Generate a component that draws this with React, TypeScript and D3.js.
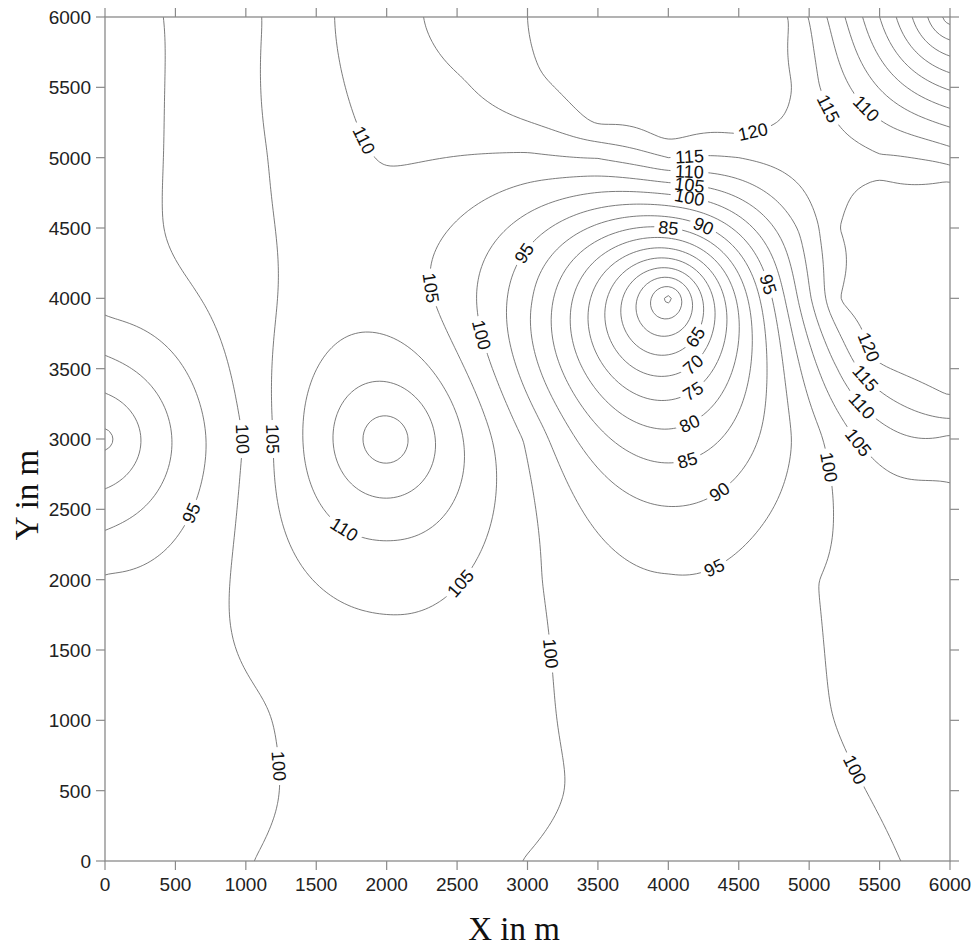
import React, { useEffect, useRef } from 'react';
import * as d3 from 'd3';

// survey grid nodes (m)
const xNodes = [0, 1000, 2000, 3000, 4000, 5000, 6000];
const yNodes = [0, 1000, 2000, 3000, 4000, 5000, 6000];

// values at the grid nodes, one row per northing (south to north)
const valuesY0 = [98.0, 99.9, 102.0, 99.9, 97.5, 98.2, 100.8];
const valuesY1000 = [97.5, 99.0, 103.5, 100.8, 97.0, 99.5, 102.5];
const valuesY2000 = [95.5, 101.0, 106.3, 100.9, 95.3, 99.7, 102.8];
const valuesY3000 = [78.5, 100.4, 124.0, 99.2, 81.5, 97.6, 109.0];
const valuesY4000 = [97.0, 102.8, 107.5, 91.1, 48.5, 109.3, 122.3];
const valuesY5000 = [97.3, 103.8, 110.4, 109.1, 115.0, 117.5, 112.8];
const valuesY6000 = [97.3, 103.9, 113.5, 120.0, 123.0, 114.7, 72.5];

// extra readings between the nodes
const extraX = [3500, 4500, 4800, 3500, 4000, 4500, 4800, 2500, 3500, 4000, 4500, 3500, 4500, 5000,
    5000, 5250, 5250, 5200, 5500, 5500, 5500, 5500, 6000, 6000, 5500, 6000, 6000, 5500, 5500, 6000, 5500,
    1000, 3000, 3500, 3000, 3250, 500];
const extraY = [6000, 6000, 6000, 5700, 5500, 5600, 5500, 5500, 5300, 5200, 5250, 5000, 5000, 5500,
    4500, 4000, 4500, 3500, 4000, 4500, 4800, 5000, 4500, 4800, 3600, 3500, 3250, 3250, 3000, 2500, 2500,
    500, 500, 500, 5500, 5750, 4500];
const extraV = [121.5, 122.5, 121.5, 121.8, 122.8, 122.5, 121.8, 114.2, 122.0, 122.3, 121.8, 110.2, 115.0, 116.6,
    112.5, 121.0, 120.8, 110.0, 122.3, 122.0, 121.0, 115.5, 121.8, 121.0, 121.5, 121.8, 119.3, 112.8, 107.5, 102.8, 103.0,
    99.0, 100.8, 99.4, 118.8, 121.0, 100.5];

const contourLevels = d3.range(50, 121, 5);
const axisTicks = d3.range(0, 6001, 500);

// [level, approx. x, approx. y] where a contour carries its label
const labelSpots: [number, number, number][] = [
    [110, 1825, 5126], [120, 4594, 5197], [115, 5112, 5325], [110, 5396, 5325],
    [115, 4154, 5005], [110, 4140, 4919], [105, 4154, 4834], [100, 4154, 4749],
    [85, 3998, 4538], [90, 4260, 4538], [95, 2876, 4379], [95, 4693, 4095],
    [105, 2272, 4059], [100, 2613, 3725], [120, 5361, 3633], [115, 5375, 3405],
    [110, 5375, 3227], [105, 5375, 3007], [100, 5162, 2801], [65, 4249, 3668],
    [70, 4228, 3491], [75, 4207, 3299], [80, 4175, 3085], [85, 4140, 2837],
    [90, 4367, 2623], [95, 4317, 2118], [100, 944, 2993], [105, 1186, 2993],
    [95, 589, 2474], [110, 1690, 2339], [105, 2535, 1962], [100, 1264, 682],
    [100, 3195, 1479], [100, 5382, 668],
];

const sans = 'Arial, "Liberation Sans", sans-serif';
const serif = '"Times New Roman", "Liberation Serif", serif';

export default function App() {
    const svgRef = useRef<SVGSVGElement | null>(null);

    useEffect(() => {
        const width = 972;
        const height = 946;
        const plot = { left: 105, right: 950, top: 17, bottom: 861 };

        const x = d3.scaleLinear().domain([0, 6000]).range([plot.left, plot.right]);
        const y = d3.scaleLinear().domain([0, 6000]).range([plot.bottom, plot.top]);

        const svg = d3.select(svgRef.current).attr('width', width).attr('height', height);
        svg.selectAll('*').remove();

        // kriging with a linear variogram through all readings
        const rows = [valuesY0, valuesY1000, valuesY2000, valuesY3000, valuesY4000, valuesY5000, valuesY6000];
        const pts: [number, number, number][] = [];
        rows.forEach((row, j) => row.forEach((v, i) => pts.push([xNodes[i], yNodes[j], v])));
        extraV.forEach((v, i) => pts.push([extraX[i], extraY[i], v]));
        const n = pts.length;
        const size = n + 1;
        const mat: number[][] = [];
        for (let i = 0; i < size; i++) {
            const r = new Array(size + 1).fill(0);
            for (let k = 0; k < size; k++) {
                if (i < n && k < n) r[k] = Math.hypot(pts[i][0] - pts[k][0], pts[i][1] - pts[k][1]);
                else if (i === n && k === n) r[k] = 0;
                else r[k] = 1;
            }
            r[size] = i < n ? pts[i][2] : 0;
            mat.push(r);
        }
        for (let c = 0; c < size; c++) {
            let p = c;
            for (let r = c + 1; r < size; r++) if (Math.abs(mat[r][c]) > Math.abs(mat[p][c])) p = r;
            [mat[c], mat[p]] = [mat[p], mat[c]];
            for (let r = 0; r < size; r++) {
                if (r === c) continue;
                const f = mat[r][c] / mat[c][c];
                if (f === 0) continue;
                for (let k = c; k <= size; k++) mat[r][k] -= f * mat[c][k];
            }
        }
        const w = mat.map((r, i) => r[size] / r[i]);

        const step = 25;
        const nx = 6000 / step + 1;
        const grid: number[] = new Array(nx * nx);
        for (let j = 0; j < nx; j++) {
            const gy = 6000 - j * step;
            for (let i = 0; i < nx; i++) {
                const gx = i * step;
                let s = w[n];
                for (let k = 0; k < n; k++) s += w[k] * Math.hypot(gx - pts[k][0], gy - pts[k][1]);
                grid[j * nx + i] = s;
            }
        }

        const contours = d3.contours().size([nx, nx]).thresholds(contourLevels)(grid);
        const toPx = (p: number[]): [number, number] => [x((p[0] - 0.5) * step), y(6000 - (p[1] - 0.5) * step)];

        // label positions snapped to the contour, rotated along it
        const labels = labelSpots.map(([lev, lx, ly]) => {
            const c = contours.find((d) => d.value === lev);
            const ax = x(lx);
            const ay = y(ly);
            let best: { ring: [number, number][]; idx: number } | null = null;
            let bd = Infinity;
            c?.coordinates.forEach((poly) => poly.forEach((ring) => {
                const pr = ring.map(toPx);
                pr.forEach((p, idx) => {
                    if (p[0] < plot.left + 2 || p[0] > plot.right - 2 || p[1] < plot.top + 2 || p[1] > plot.bottom - 2) return;
                    const d = (p[0] - ax) ** 2 + (p[1] - ay) ** 2;
                    if (d < bd) { bd = d; best = { ring: pr, idx }; }
                });
            }));
            if (!best) return null;
            const { ring, idx } = best as { ring: [number, number][]; idx: number };
            const m = ring.length - 1;
            const a = ring[(idx - 4 + m) % m];
            const b = ring[(idx + 4) % m];
            let ang = (Math.atan2(b[1] - a[1], b[0] - a[0]) * 180) / Math.PI;
            if (ang > 90) ang -= 180;
            if (ang <= -90) ang += 180;
            return { lev, x: ring[idx][0], y: ring[idx][1], ang, tw: String(lev).length * 10 };
        }).filter((d): d is { lev: number; x: number; y: number; ang: number; tw: number } => d !== null);

        const defs = svg.append('defs');
        defs.append('clipPath').attr('id', 'plot-clip')
            .append('rect')
            .attr('x', plot.left).attr('y', plot.top)
            .attr('width', plot.right - plot.left).attr('height', plot.bottom - plot.top);

        contourLevels.forEach((lev) => {
            const mask = defs.append('mask').attr('id', `gap-${lev}`)
                .attr('maskUnits', 'userSpaceOnUse')
                .attr('x', 0).attr('y', 0).attr('width', width).attr('height', height);
            mask.append('rect').attr('width', width).attr('height', height).attr('fill', '#fff');
            labels.filter((l) => l.lev === lev).forEach((l) => {
                mask.append('rect')
                    .attr('x', -l.tw / 2 - 4).attr('y', -8)
                    .attr('width', l.tw + 8).attr('height', 16)
                    .attr('fill', '#000')
                    .attr('transform', `translate(${l.x},${l.y}) rotate(${l.ang})`);
            });
        });

        const ringPath = (ring: number[][]) => 'M' + ring.map((p) => toPx(p).map((v) => v.toFixed(2)).join(',')).join('L') + 'Z';

        svg.append('g')
            .attr('clip-path', 'url(#plot-clip)')
            .selectAll('path')
            .data(contours)
            .enter()
            .append('path')
            .attr('d', (d) => d.coordinates.map((poly) => poly.map(ringPath).join('')).join(''))
            .attr('fill', 'none')
            .attr('stroke', '#5a5a5a')
            .attr('stroke-width', 0.8)
            .attr('mask', (d) => `url(#gap-${d.value})`);

        svg.append('g')
            .selectAll('text')
            .data(labels)
            .enter()
            .append('text')
            .attr('transform', (d) => `translate(${d.x},${d.y}) rotate(${d.ang})`)
            .attr('text-anchor', 'middle')
            .attr('dy', '0.36em')
            .attr('font-family', sans)
            .attr('font-size', 18)
            .attr('fill', '#111')
            .text((d) => d.lev);

        // frame and ticks on all four sides
        const axisColor = '#8a8a8a';
        svg.append('rect')
            .attr('x', plot.left).attr('y', plot.top)
            .attr('width', plot.right - plot.left).attr('height', plot.bottom - plot.top)
            .attr('fill', 'none').attr('stroke', axisColor).attr('stroke-width', 1.3);

        const ticks = svg.append('g').attr('stroke', axisColor).attr('stroke-width', 1.2);
        axisTicks.forEach((t) => {
            ticks.append('line').attr('x1', x(t)).attr('x2', x(t)).attr('y1', plot.bottom).attr('y2', plot.bottom + 9);
            ticks.append('line').attr('x1', x(t)).attr('x2', x(t)).attr('y1', plot.top).attr('y2', plot.top - 9);
            ticks.append('line').attr('y1', y(t)).attr('y2', y(t)).attr('x1', plot.left).attr('x2', plot.left - 9);
            ticks.append('line').attr('y1', y(t)).attr('y2', y(t)).attr('x1', plot.right).attr('x2', plot.right + 9);
        });

        svg.append('g')
            .selectAll('text')
            .data(axisTicks)
            .enter()
            .append('text')
            .attr('x', (d) => x(d))
            .attr('y', plot.bottom + 30)
            .attr('text-anchor', 'middle')
            .attr('font-family', sans)
            .attr('font-size', 19)
            .attr('fill', '#222')
            .text((d) => d);

        svg.append('g')
            .selectAll('text')
            .data(axisTicks)
            .enter()
            .append('text')
            .attr('x', plot.left - 14)
            .attr('y', (d) => y(d) + 7)
            .attr('text-anchor', 'end')
            .attr('font-family', sans)
            .attr('font-size', 19)
            .attr('fill', '#222')
            .text((d) => d);

        svg.append('text')
            .attr('x', 514).attr('y', 940)
            .attr('text-anchor', 'middle')
            .attr('font-family', serif)
            .attr('font-size', 33)
            .attr('fill', '#111')
            .text('X in m');

        svg.append('text')
            .attr('transform', 'translate(38,495) rotate(-90)')
            .attr('text-anchor', 'middle')
            .attr('font-family', serif)
            .attr('font-size', 33)
            .attr('fill', '#111')
            .text('Y in m');
    }, []);

    return <svg ref={svgRef} style={{ position: 'absolute', left: 0, top: 0, background: '#fff' }}></svg>;
}
